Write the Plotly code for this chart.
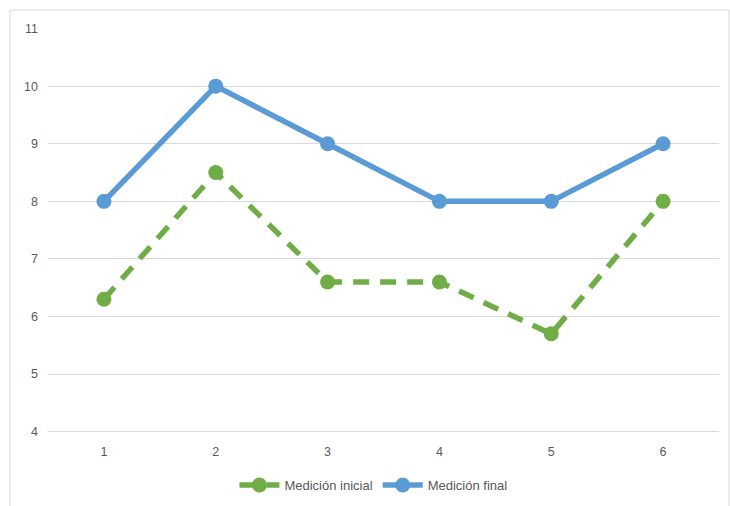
import plotly.graph_objects as go

categorias = [1, 2, 3, 4, 5, 6]
medicion_inicial = [6.3, 8.5, 6.6, 6.6, 5.7, 8.0]
medicion_final = [8, 10, 9, 8, 8, 9]
y_ticks = [4, 5, 6, 7, 8, 9, 10, 11]

VERDE = "#70AD47"
AZUL = "#5B9BD5"
TEXTO = "#595959"
REJILLA = "#D9D9D9"

W, H = 730, 506
ML, MR, MT, MB = 48, 11, 28, 72

fig = go.Figure()
fig.add_trace(go.Scatter(
    x=categorias, y=medicion_inicial, name="Medición inicial",
    mode="lines+markers",
    line=dict(color=VERDE, width=5.5, dash="16px,11px"),
    marker=dict(color=VERDE, size=15),
))
fig.add_trace(go.Scatter(
    x=categorias, y=medicion_final, name="Medición final",
    mode="lines+markers",
    line=dict(color=AZUL, width=5.5),
    marker=dict(color=AZUL, size=15),
))

pw = W - ML - MR
ph = H - MT - MB
plot_bottom = H - MB
# outer chart frame (pixel edges converted to paper fractions)
fig.add_shape(
    type="rect", xref="paper", yref="paper",
    x0=(10 - ML) / pw, x1=(729 - ML) / pw,
    y0=(plot_bottom - 515) / ph, y1=(plot_bottom - 10) / ph,
    line=dict(color=REJILLA, width=1), fillcolor="rgba(0,0,0,0)", layer="below",
)

fig.update_layout(
    width=W, height=H,
    margin=dict(l=ML, r=MR, t=MT, b=MB, autoexpand=False),
    paper_bgcolor="white", plot_bgcolor="white",
    font=dict(family="Liberation Sans, Arial, sans-serif", size=12, color=TEXTO),
    showlegend=True,
    legend=dict(
        orientation="h", x=0.485, xanchor="center", y=(plot_bottom - 485) / ph,
        yanchor="middle",
        font=dict(size=13, color=TEXTO), itemwidth=40,
        bgcolor="rgba(0,0,0,0)",
    ),
    xaxis=dict(
        tickmode="array", tickvals=categorias, ticktext=[str(c) for c in categorias],
        range=[0.5, 6.5], showgrid=False, zeroline=False, showline=False,
        ticks="", ticklabelstandoff=8, tickfont=dict(size=12.5, color=TEXTO),
        automargin=False,
    ),
    yaxis=dict(
        tickmode="array", tickvals=y_ticks, range=[3.96, 11.01],
        showgrid=True, gridcolor=REJILLA, gridwidth=1, zeroline=False,
        showline=False, ticks="", ticklabelstandoff=9,
        tickfont=dict(size=12.5, color=TEXTO), automargin=False,
    ),
)

fig.write_html("out.html")
